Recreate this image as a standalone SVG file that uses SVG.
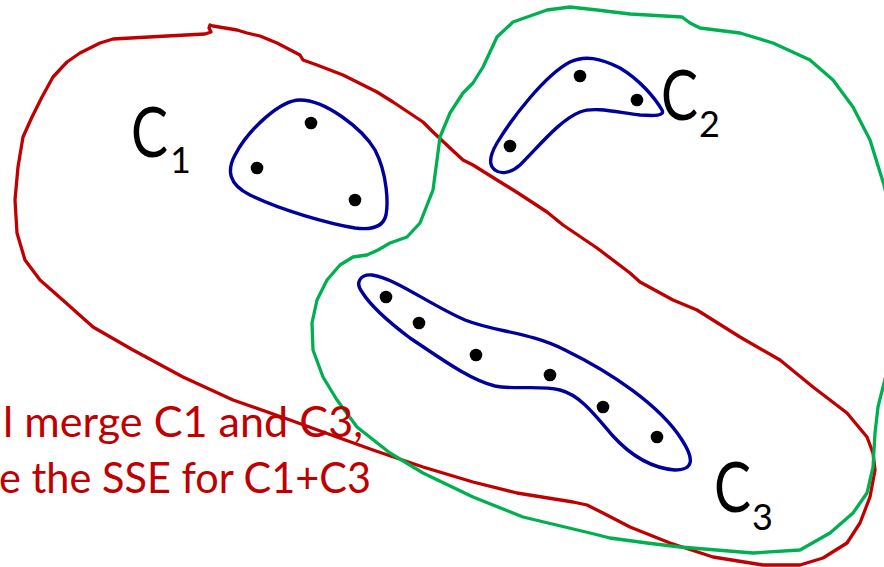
<svg xmlns="http://www.w3.org/2000/svg" width="884" height="567" viewBox="0 0 884 567">
<style>
.outline{fill:none;stroke-width:3.3;stroke-linejoin:round;stroke-linecap:round}
.red{stroke:#C00000}
.green{stroke:#00B050}
.blue{fill:none;stroke:#00009C;stroke-width:3.4;stroke-linejoin:round}
.dot{fill:#000}
.lbl{font-family:Lato,"Open Sans",sans-serif;fill:#000;font-size:69px}
.sub{font-size:36px}
.note{font-family:Lato,"Open Sans",sans-serif;font-size:42px;fill:#C00000}
</style>
<rect width="884" height="567" fill="#fff"/>
<g id="merged-C1-C3">
<path class="outline red" d="M210,25 L213,26 L237,30 L247,33 L260,36 L277,43 L300,55 L303,60 L317,65 L343,75 L353,80 L377,92 L393,102 L423,122 L433,132 L450,148 L463,160 L473,165 L497,180 L510,188 L518,193 L547,212 L563,225 L597,248 L630,273 L640,282 L673,300 L697,310 L740,337 L780,360 L813,387 L847,413 L867,437 L873,453 L875,470 L870,497 L860,523 L847,543 L823,558 L800,565 L763,565 L713,557 L670,543 L630,527 L603,513 L587,505 L573,502 L517,493 L473,482 L423,467 L373,450 L323,432 L290,420 L233,400 L183,377 L133,350 L93,327 L65,302 L40,280 L25,260 L17,233 L15,200 L18,167 L23,137 L32,117 L42,97 L53,77 L67,62 L80,53 L100,43 L113,39 L167,36 L205,34 L211,32 L209,28 Z"/>
</g>
<g id="merged-C2-C3">
<path class="outline green" d="M513,22 L547,10 L570,7 L597,10 L630,14 L682,17 L690,23 L700,28 L740,33 L773,43 L810,60 L833,80 L853,107 L870,140 L884,185 L895,230 L898,300 L890,360 L883,387 L878,407 L875,433 L873,467 L867,493 L853,513 L830,533 L800,550 L753,553 L680,547 L647,543 L610,538 L590,533 L523,517 L473,497 L423,473 L390,453 L357,427 L337,400 L323,377 L313,350 L312,323 L317,300 L327,280 L340,265 L353,257 L367,255 L378,250 L390,243 L407,237 L420,223 L433,190 L437,160 L440,137 L450,113 L463,93 L473,83 L483,67 L497,37 Z"/>
</g>
<g id="cluster-C1">
<path class="blue" d="M300,100 C325,100 362,128 375,150 C388,175 388,205 386,215 C383,228 370,230 355,228 C330,224 280,210 250,195 C228,184 227,170 235,155 C248,130 280,100 300,100 Z"/>
<circle class="dot" cx="311" cy="123" r="6.3"/>
<circle class="dot" cx="257" cy="168" r="6.3"/>
<circle class="dot" cx="355" cy="200" r="6.3"/>
<text class="lbl" y="157"><tspan x="131" textLength="37" lengthAdjust="spacingAndGlyphs">C</tspan><tspan class="sub" x="170" dy="16">1</tspan></text>
</g>
<g id="cluster-C2">
<path class="blue" d="M495,170 C488,165 490,155 497,143 C512,118 545,75 570,62 C585,55 600,58 620,68 C640,80 655,98 662,110 C665,116 655,116 640,115 C620,113 595,106 580,112 C560,120 540,145 520,165 C510,174 500,174 495,170 Z"/>
<circle class="dot" cx="580" cy="76" r="6.3"/>
<circle class="dot" cx="637" cy="100" r="6.3"/>
<circle class="dot" cx="510" cy="146" r="6.3"/>
<text class="lbl" y="120"><tspan x="661" textLength="37" lengthAdjust="spacingAndGlyphs">C</tspan><tspan class="sub" x="699" dy="17">2</tspan></text>
</g>
<g id="cluster-C3">
<path class="blue" d="M362,292 C355,283 360,274 372,275 C395,278 430,305 465,320 C495,332 530,332 565,350 C610,372 660,405 682,440 C695,460 693,470 675,470 C650,468 630,455 612,435 C595,415 580,395 560,390 C540,385 515,390 495,386 C470,380 440,358 410,338 C390,323 372,308 362,292 Z"/>
<circle class="dot" cx="386" cy="297" r="6.3"/>
<circle class="dot" cx="419" cy="323" r="6.3"/>
<circle class="dot" cx="476" cy="355" r="6.3"/>
<circle class="dot" cx="550" cy="375" r="6.3"/>
<circle class="dot" cx="603" cy="407" r="6.3"/>
<circle class="dot" cx="657" cy="437" r="6.3"/>
<text class="lbl" y="512"><tspan x="714" textLength="37" lengthAdjust="spacingAndGlyphs">C</tspan><tspan class="sub" x="752" dy="18">3</tspan></text>
</g>
<g id="note">
<text class="note" x="3" y="437" textLength="360" lengthAdjust="spacingAndGlyphs">l merge C1 and C3,</text>
<text class="note" x="-1" y="493" textLength="372" lengthAdjust="spacingAndGlyphs">e the SSE for C1+C3</text>
</g>
<g id="connectors"/>
</svg>
